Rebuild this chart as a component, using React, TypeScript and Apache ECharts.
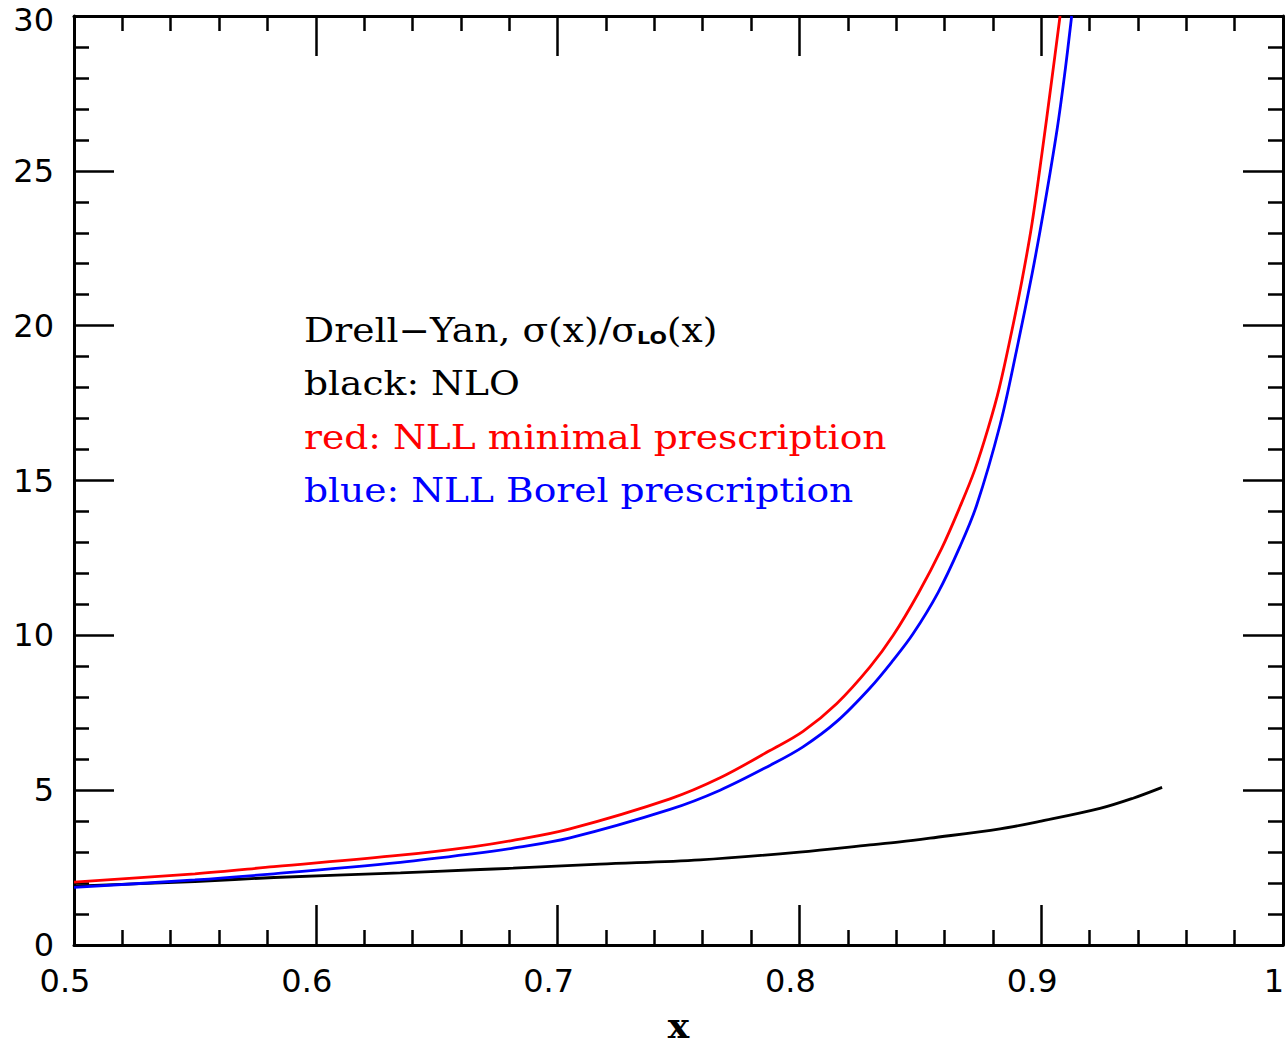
import React, { useEffect, useRef } from 'react';
import * as echarts from 'echarts';

const nloPoints: [number, number][] = [
  [0.5, 1.9], [0.55, 2.05], [0.5827, 2.18], [0.635, 2.33], [0.6654, 2.43], [0.6816, 2.48],
  [0.7175, 2.61], [0.759, 2.75], [0.8, 3.0], [0.8292, 3.23], [0.8416, 3.33], [0.854, 3.45],
  [0.883, 3.75], [0.9, 4.0], [0.9243, 4.41], [0.938, 4.74], [0.95, 5.09],
];

const minimalPoints: [number, number][] = [
  [0.5, 2.03], [0.55, 2.3], [0.5827, 2.53], [0.635, 2.9], [0.6654, 3.18], [0.6816, 3.38],
  [0.7051, 3.75], [0.7465, 4.72], [0.7672, 5.4], [0.7878, 6.28], [0.8015, 6.9], [0.8155, 7.8],
  [0.8292, 8.98], [0.8388, 10.0], [0.8492, 11.36], [0.8588, 12.8], [0.8664, 14.15],
  [0.8726, 15.36], [0.8781, 16.7], [0.8827, 18.0], [0.8883, 20.0], [0.8919, 21.4],
  [0.896, 23.2], [0.9002, 25.5], [0.9043, 27.9], [0.9078, 30],
];

const borelPoints: [number, number][] = [
  [0.5, 1.86], [0.55, 2.1], [0.5827, 2.3], [0.635, 2.67], [0.6654, 2.95], [0.6816, 3.13],
  [0.7051, 3.46], [0.7465, 4.38], [0.7672, 5.0], [0.7878, 5.8], [0.8015, 6.4], [0.8155, 7.22],
  [0.8292, 8.3], [0.8388, 9.2], [0.847, 10.05], [0.8574, 11.39], [0.8663, 12.85],
  [0.8733, 14.2], [0.883, 16.8], [0.8898, 19.2], [0.8963, 21.7], [0.9012, 23.8],
  [0.9066, 26.35], [0.91, 28.3], [0.9126, 30],
];

const xRange = { min: 0.5, max: 1, interval: 0.1 };
const yRange = { min: 0, max: 30, interval: 5 };

const annotationLines = [
  { text: '{a|Drell\u2212Yan, \u03c3(x)/\u03c3}{s|LO}{a|(x)}', color: '#000000' },
  { text: 'black: NLO', color: '#000000' },
  { text: 'red: NLL minimal prescription', color: '#ff0000' },
  { text: 'blue: NLL Borel prescription', color: '#0000ff' },
];

const LABEL_FONT = 'DejaVu Sans';
const TEXT_FONT = 'DejaVu Serif';
const WIDTH = 1288;
const HEIGHT = 1048;

export default function App() {
  const ref = useRef<HTMLDivElement>(null);

  useEffect(() => {
    if (!ref.current) return;
    const chart = echarts.init(ref.current, undefined, { renderer: 'svg', width: WIDTH, height: HEIGHT });

    const axisLine = { show: true, onZero: false, lineStyle: { color: '#000', width: 3 } };
    const axisTick = { show: true, inside: true, length: 40, lineStyle: { color: '#000', width: 2.5 } };
    const minorTick = { show: true, splitNumber: 5, length: 15, lineStyle: { color: '#000', width: 2.5 } };
    const labelStyle = { color: '#000', fontFamily: LABEL_FONT, fontSize: 32 };

    const xBase = {
      type: 'value', min: xRange.min, max: xRange.max, interval: xRange.interval,
      axisLine, axisTick, minorTick,
      splitLine: { show: false }, minorSplitLine: { show: false },
    };
    const yBase = {
      type: 'value', min: yRange.min, max: yRange.max, interval: yRange.interval,
      axisLine, axisTick, minorTick,
      splitLine: { show: false }, minorSplitLine: { show: false },
    };

    const lineSeries = (name: string, data: [number, number][], color: string) => ({
      name, type: 'line', data,
      showSymbol: false, symbol: 'none',
      smooth: 0.35, clip: true,
      lineStyle: { color, width: 2.8 },
      z: 3,
    });

    chart.setOption({
      animation: false,
      backgroundColor: '#ffffff',
      grid: { left: 74, right: 5, top: 16, bottom: 101, containLabel: false },
      xAxis: [
        {
          ...xBase, position: 'bottom',
          axisLabel: {
            ...labelStyle, margin: 20, padding: [0, 18, 0, 0],
            formatter: (v: number) => (v === xRange.max ? '{end|' + v + '}' : String(v)),
            rich: { end: { ...labelStyle, padding: [0, 0, 0, 0] } },
          },
          name: 'x', nameLocation: 'middle', nameGap: 62,
          nameTextStyle: { color: '#000', fontFamily: TEXT_FONT, fontSize: 36, fontWeight: 'bold' },
        },
        { ...xBase, position: 'top', axisLabel: { show: false } },
      ],
      yAxis: [
        {
          ...yBase, position: 'left',
          axisLabel: {
            ...labelStyle, margin: 20,
            formatter: (v: number) => (v === yRange.max ? '' : String(v)),
          },
        },
        { ...yBase, position: 'right', axisLabel: { show: false } },
      ],
      series: [
        lineSeries('NLO', nloPoints, '#000000'),
        lineSeries('NLL minimal prescription', minimalPoints, '#ff0000'),
        lineSeries('NLL Borel prescription', borelPoints, '#0000ff'),
      ],
      graphic: annotationLines.map((line, i) => ({
        type: 'text', x: 304, y: 330 + i * 53.5, scaleX: 1.14, z: 10,
        style: {
          text: line.text, fill: line.color, fontFamily: TEXT_FONT, fontSize: 33,
          verticalAlign: 'middle', align: 'left',
          rich: {
            a: { fontFamily: TEXT_FONT, fontSize: 33, fill: line.color, color: line.color },
            s: { fontFamily: LABEL_FONT, fontSize: 18, fontWeight: 'bold', fill: line.color, color: line.color, padding: [16, 0, 0, 0] },
          },
        },
      })),
    });

    // top tick label of the y axis, nudged down so it stays inside the page (as in the reference)
    const topY = chart.convertToPixel({ yAxisIndex: 0 }, yRange.max) as number;
    const leftX = chart.convertToPixel({ xAxisIndex: 0 }, xRange.min) as number;
    chart.setOption({
      graphic: [
        {
          id: 'ymax-label', type: 'text', x: leftX - 20, y: topY + 4,
          style: {
            text: String(yRange.max), fill: '#000', fontFamily: LABEL_FONT, fontSize: 32,
            align: 'right', verticalAlign: 'middle',
          },
        },
      ],
    });

    return () => chart.dispose();
  }, []);

  return (
    <div ref={ref} style={{ position: 'fixed', left: 0, top: 0, width: WIDTH, height: HEIGHT, background: '#fff', overflow: 'hidden' }} />
  );
}
